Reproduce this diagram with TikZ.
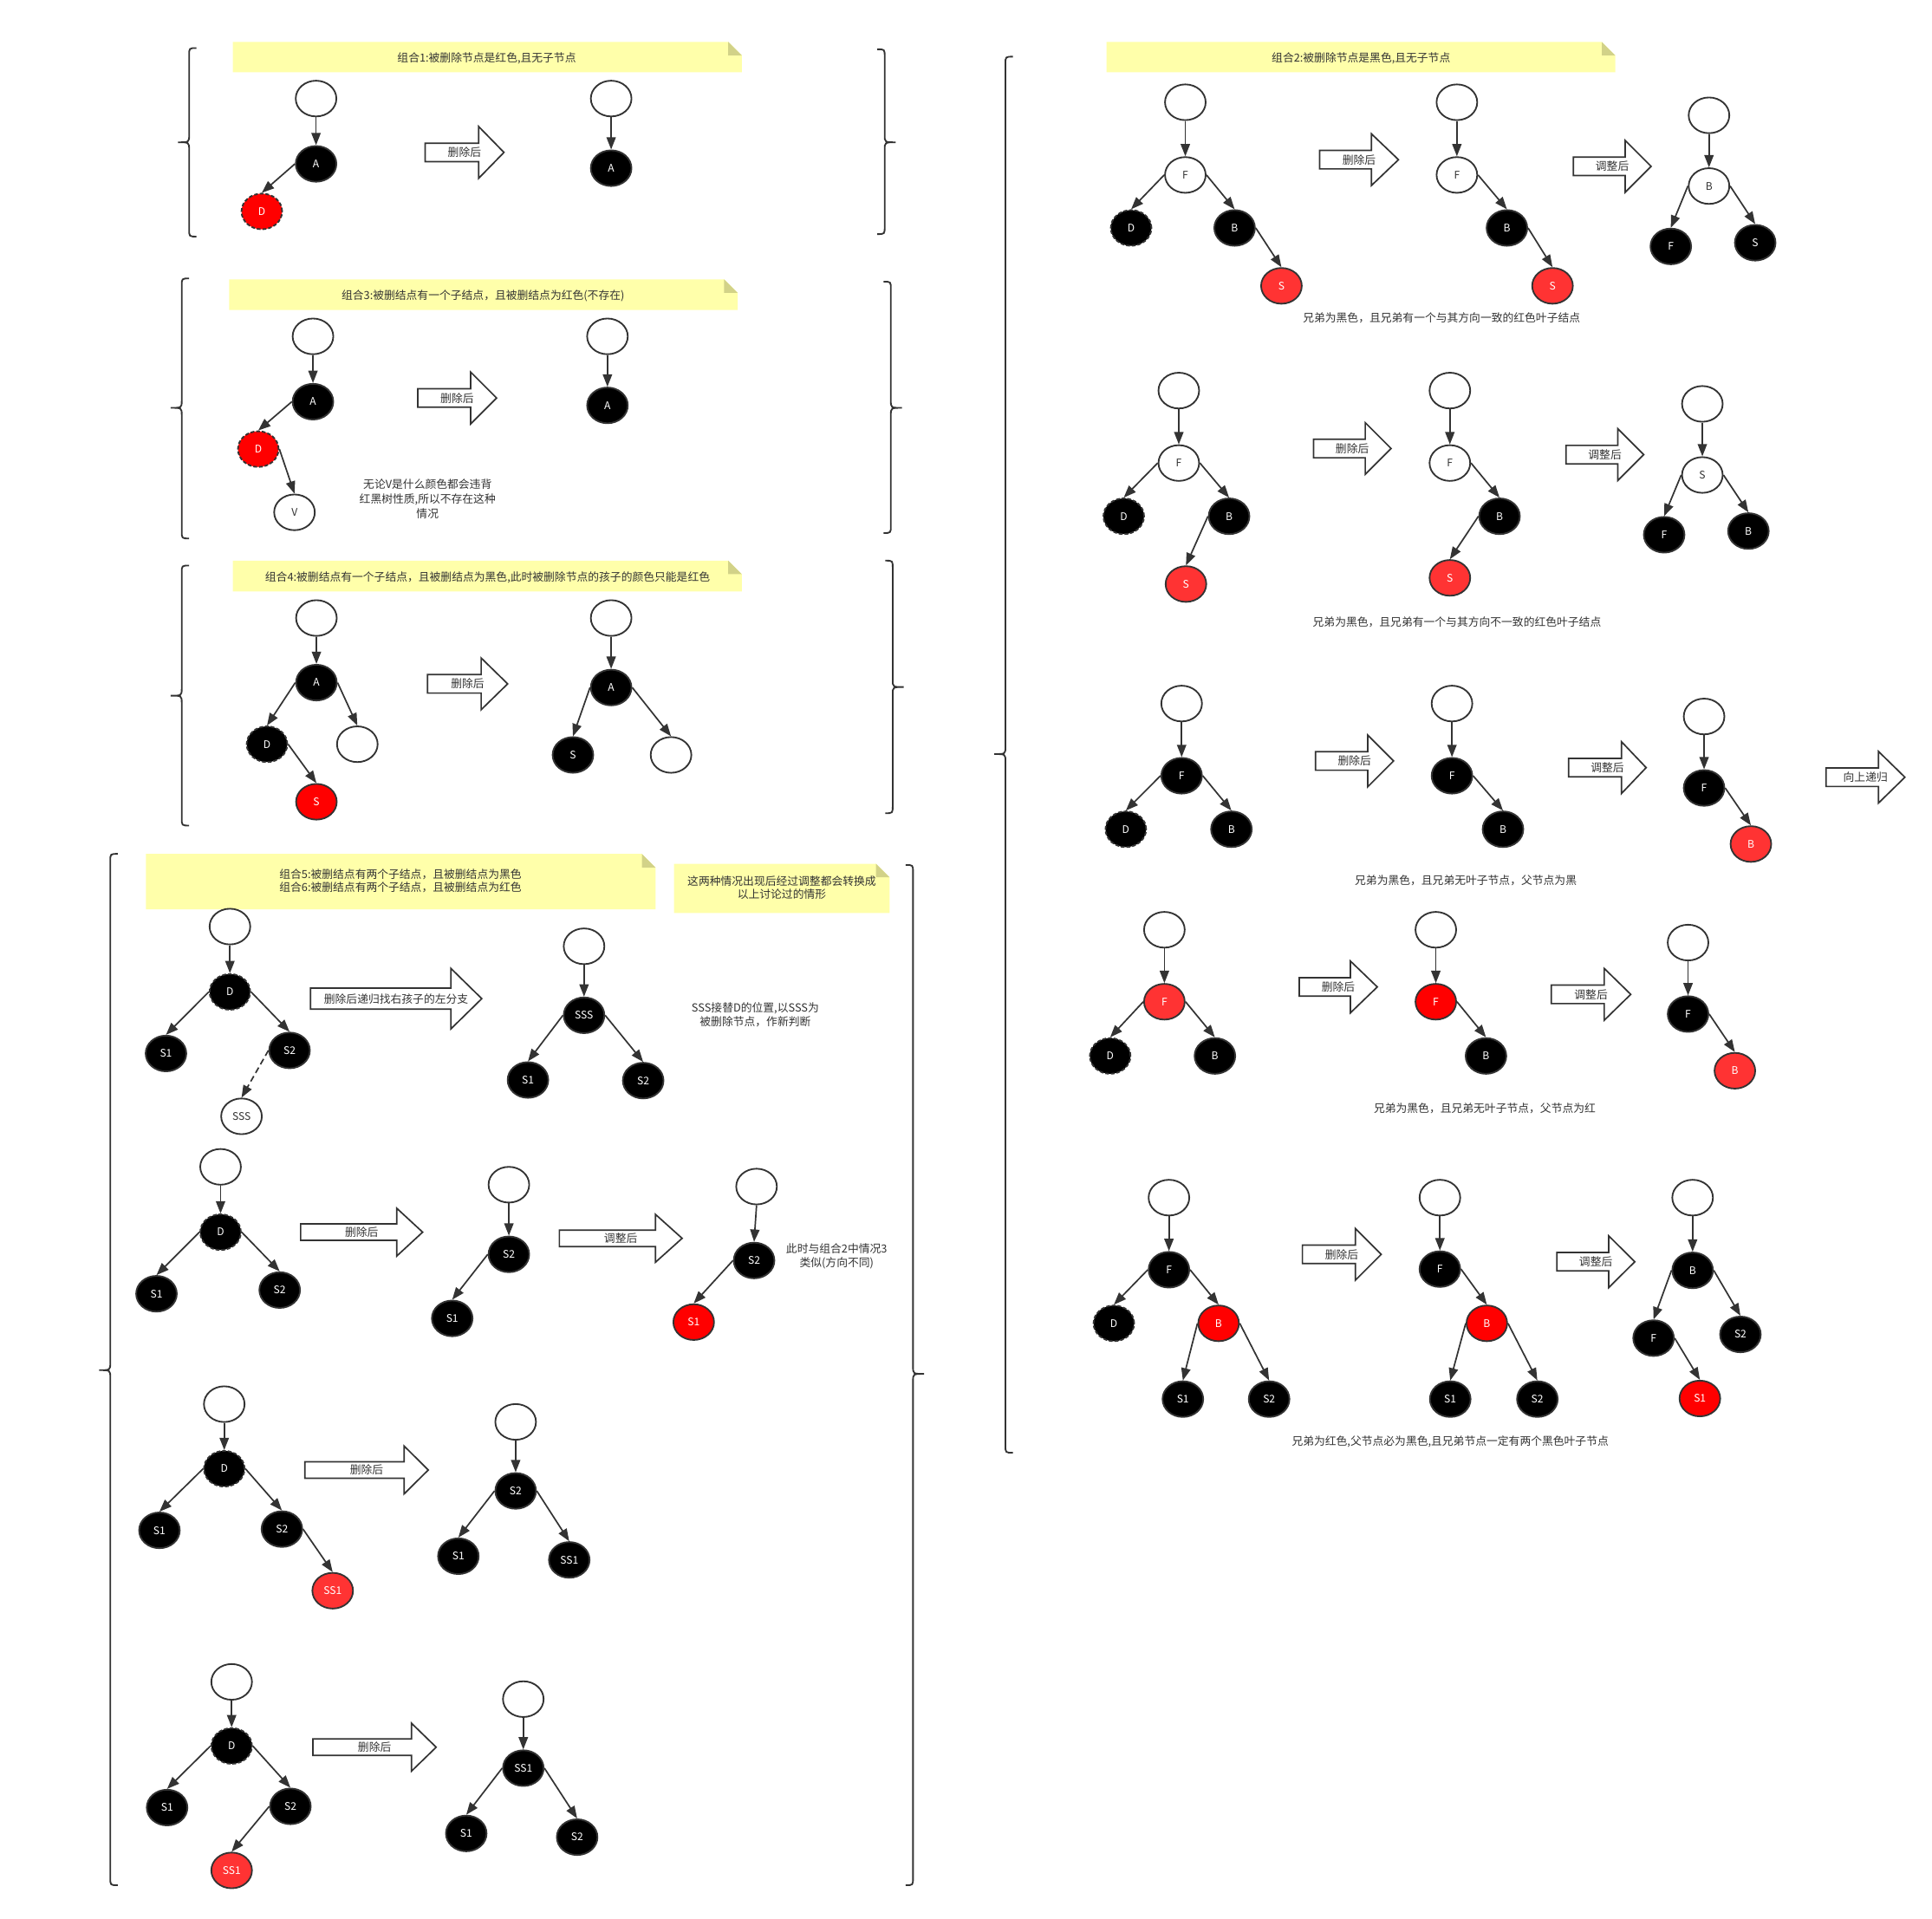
\documentclass[tikz,border=0pt]{standalone}
\usepackage{fontspec}
\newfontfamily\cjk{Noto Sans CJK SC}
\usetikzlibrary{shapes.geometric,arrows.meta}
\definecolor{cdark}{HTML}{333333}
\definecolor{redA}{HTML}{FF0000}
\definecolor{redB}{HTML}{FF3333}
\definecolor{noteY}{HTML}{FFFFAA}
\definecolor{noteF}{HTML}{D2D288}
\tikzset{
  nd/.style={ellipse, minimum width=33pt, minimum height=29pt, inner sep=0pt, line width=1.3pt, draw=cdark, font=\cjk\fontsize{8.5}{10}\selectfont},
  wn/.style={nd, fill=white, text=cdark},
  bn/.style={nd, fill=black, text=white},
  rnA/.style={nd, fill=redA, text=white},
  rnB/.style={nd, fill=redB, text=white},
  dsh/.style={dash pattern=on 3pt off 1.6pt},
  conn/.style={draw=cdark, line width=1.2pt, -{Triangle[length=10pt,width=7.5pt]}},
  fatline/.style={draw=cdark, fill=white, line width=1.2pt, line join=miter},
  arrlab/.style={font=\cjk\fontsize{9}{10}\selectfont, text=cdark, inner sep=0pt},
  captxt/.style={font=\cjk\fontsize{9}{11}\selectfont, text=cdark, inner sep=0pt, align=center},
  brc/.style={draw=cdark, line width=1.3pt},
}
\newcommand\fatarr[8]{%
  \draw[fatline] (#1,#4-#5) -- (#2,#4-#5) -- (#2,#4-#6) -- (#3,#4) -- (#2,#4+#6) -- (#2,#4+#5) -- (#1,#4+#5) -- cycle;
  \node[arrlab] (#8) at ({(#1+#3)/2},#4) {#7};}
\newcommand\notebox[4]{%
  \fill[noteY] (#1,#2) -- (#3-11,#2) -- (#3,#2+11) -- (#3,#4) -- (#1,#4) -- cycle;
  \fill[noteF] (#3-11,#2) -- (#3,#2+11) -- (#3-11,#2+11) -- cycle;}
\newcommand\bracel[4]{%
  \draw[brc] (#1+6,#2) .. controls (#1,#2) .. (#1,#2+6) -- (#1,#3-6) .. controls (#1,#3) .. (#1-9,#3) .. controls (#1,#3) .. (#1,#3+6) -- (#1,#4-6) .. controls (#1,#4) .. (#1+6,#4);}
\newcommand\bracer[4]{%
  \draw[brc] (#1-6,#2) .. controls (#1,#2) .. (#1,#2+6) -- (#1,#3-6) .. controls (#1,#3) .. (#1+9,#3) .. controls (#1,#3) .. (#1,#3+6) -- (#1,#4-6) .. controls (#1,#4) .. (#1-6,#4);}
\begin{document}
\begin{tikzpicture}[x=1pt,y=-1pt,font=\cjk]
\useasboundingbox[fill=white] (0,0) rectangle (1568,1557);

% ===== Section 1 =====
\notebox{189}{34}{602}{58.6}
\node[captxt] (t1) at (395,47) {组合1:被删除节点是红色,且无子节点};
\bracel{153.5}{39}{115.5}{192}
\bracer{718}{40}{115.5}{190}
\node[wn] (s1r) at (256.5,80) {};
\node[bn] (s1a) at (256.5,133) {A};
\node[rnA,dsh] (s1d) at (212.5,171.6) {D};
\draw[conn] (s1r.south) -- (s1a.north);
\draw[conn] (s1a.west) -- (s1d.north);
\fatarr{345}{388.5}{409}{123.7}{7.5}{21}{删除后}{s1f}
\node[wn] (s1r2) at (496,80) {};
\node[bn] (s1a2) at (496,136.5) {A};
\draw[conn] (s1r2.south) -- (s1a2.north);

% ===== Section 3 =====
\notebox{186}{226.7}{598.7}{251.6}
\node[captxt] (t3) at (392,240) {组合3:被删结点有一个子结点，且被删结点为红色(不存在)};
\bracel{147.5}{226}{331}{437}
\bracer{723}{228.6}{331}{432.6}
\node[wn] (s3r) at (254,273) {};
\node[bn] (s3a) at (254,326) {A};
\node[rnA,dsh] (s3d) at (209.6,364.5) {D};
\node[wn] (s3v) at (239,415.8) {V};
\draw[conn] (s3r.south) -- (s3a.north);
\draw[conn] (s3a.west) -- (s3d.north);
\draw[conn] (s3d.east) -- (s3v.north);
\fatarr{339}{382}{403}{323}{7.5}{21}{删除后}{s3f}
\node[captxt,font=\cjk\fontsize{9}{11.7}\selectfont] (s3t) at (347,405) {无论V是什么颜色都会违背\\红黑树性质,所以不存在这种\\情况};
\node[wn] (s3r2) at (493,273) {};
\node[bn] (s3a2) at (493,329) {A};
\draw[conn] (s3r2.south) -- (s3a2.north);

% ===== Section 4 =====
\notebox{189}{455}{602}{480}
\node[captxt] (t4) at (395.7,468.5) {组合4:被删结点有一个子结点，且被删结点为黑色,此时被删除节点的孩子的颜色只能是红色};
\bracel{147.5}{459}{564.6}{670}
\bracer{724.5}{455}{557.6}{660}
\node[wn] (s4r) at (256.8,501.6) {};
\node[bn] (s4a) at (256.8,554) {A};
\node[bn,dsh] (s4d) at (216.7,604) {D};
\node[wn] (s4e) at (290,604) {};
\node[rnA] (s4s) at (256.8,650.7) {S};
\draw[conn] (s4r.south) -- (s4a.north);
\draw[conn] (s4a.west) -- (s4d.north);
\draw[conn] (s4a.east) -- (s4e.north);
\draw[conn] (s4d.east) -- (s4s.north);
\fatarr{347}{390.5}{412}{555}{7.5}{21}{删除后}{s4f}
\node[wn] (s4r2) at (496,501.6) {};
\node[bn] (s4a2) at (496,558) {A};
\node[bn] (s4s2) at (465,612.7) {S};
\node[wn] (s4e2) at (544.6,612.7) {};
\draw[conn] (s4r2.south) -- (s4a2.north);
\draw[conn] (s4a2.west) -- (s4s2.north);
\draw[conn] (s4a2.east) -- (s4e2.north);

% ===== Section 5/6 =====
\notebox{118.5}{693}{532}{738}
\node[captxt,font=\cjk\fontsize{9}{10.5}\selectfont] (t5) at (325,715) {组合5:被删结点有两个子结点，且被删结点为黑色\\组合6:被删结点有两个子结点，且被删结点为红色};
\notebox{547}{701}{722}{741}
\node[captxt,font=\cjk\fontsize{9}{10.5}\selectfont] (t5b) at (634.5,720.5) {这两种情况出现后经过调整都会转换成\\以上讨论过的情形};
\bracel{89.5}{693}{1112}{1530}
\bracer{741}{702}{1115}{1530}
% row 1
\node[wn] (r5a) at (186.6,752) {};
\node[bn,dsh] (d5a) at (186.6,805) {D};
\node[bn] (p5a) at (134.7,855) {S1};
\node[bn] (q5a) at (235,852.5) {S2};
\node[wn] (x5a) at (196,906) {SSS};
\draw[conn] (r5a.south) -- (d5a.north);
\draw[conn] (d5a.west) -- (p5a.north);
\draw[conn] (d5a.east) -- (q5a.north);
\draw[conn,dash pattern=on 5pt off 3pt] (q5a.west) -- (x5a.north);
\fatarr{252}{366}{391}{810.5}{8.5}{24.5}{删除后递归找右孩子的左分支}{f5a}
\node[wn] (r5b) at (474,768) {};
\node[bn] (x5b) at (474,824) {SSS};
\node[bn] (p5b) at (428.5,876.5) {S1};
\node[bn] (q5b) at (522,877) {S2};
\draw[conn] (r5b.south) -- (x5b.north);
\draw[conn] (x5b.west) -- (p5b.north);
\draw[conn] (x5b.east) -- (q5b.north);
\node[captxt,font=\cjk\fontsize{9}{11}\selectfont] (t5c) at (613,823.5) {SSS接替D的位置,以SSS为\\被删除节点，作新判断};
% row 2
\node[wn] (r6) at (179,947) {};
\node[bn,dsh] (d6) at (179,1000) {D};
\node[bn] (p6) at (127,1050) {S1};
\node[bn] (q6) at (227,1047) {S2};
\draw[conn] (r6.south) -- (d6.north);
\draw[conn] (d6.west) -- (p6.north);
\draw[conn] (d6.east) -- (q6.north);
\fatarr{244}{322}{343}{1000}{6.7}{19.4}{删除后}{f6a}
\node[wn] (r6b) at (413,961.5) {};
\node[bn] (q6b) at (413,1018) {S2};
\node[bn] (p6b) at (367,1070) {S1};
\draw[conn] (r6b.south) -- (q6b.north);
\draw[conn] (q6b.west) -- (p6b.north);
\fatarr{454}{532}{553.6}{1005}{6.7}{19.4}{调整后}{f6b}
\node[wn] (r6c) at (614,963) {};
\node[bn] (q6c) at (612,1023) {S2};
\node[rnA] (p6c) at (563,1073) {S1};
\draw[conn] (r6c.south) -- (q6c.north);
\draw[conn] (q6c.west) -- (p6c.north);
\node[captxt] (t6) at (679,1019.5) {此时与组合2中情况3\\类似(方向不同)};
% row 3
\node[wn] (r7) at (182,1139.6) {};
\node[bn,dsh] (d7) at (182,1192) {D};
\node[bn] (p7) at (129.4,1242) {S1};
\node[bn] (q7) at (228.8,1241) {S2};
\node[rnB] (z7) at (270,1291) {SS1};
\draw[conn] (r7.south) -- (d7.north);
\draw[conn] (d7.west) -- (p7.north);
\draw[conn] (d7.east) -- (q7.north);
\draw[conn] (q7.east) -- (z7.north);
\fatarr{247.5}{328}{347.6}{1193}{6.7}{19.4}{删除后}{f7}
\node[wn] (r7b) at (418.5,1154) {};
\node[bn] (q7b) at (418.5,1210) {S2};
\node[bn] (p7b) at (372,1263) {S1};
\node[bn] (z7b) at (462,1266) {SS1};
\draw[conn] (r7b.south) -- (q7b.north);
\draw[conn] (q7b.west) -- (p7b.north);
\draw[conn] (q7b.east) -- (z7b.north);
% row 4
\node[wn] (r8) at (188,1365) {};
\node[bn,dsh] (d8) at (188,1417) {D};
\node[bn] (p8) at (135.6,1467) {S1};
\node[bn] (q8) at (235.7,1466) {S2};
\node[rnB] (z8) at (188,1518) {SS1};
\draw[conn] (r8.south) -- (d8.north);
\draw[conn] (d8.west) -- (p8.north);
\draw[conn] (d8.east) -- (q8.north);
\draw[conn] (q8.west) -- (z8.north);
\fatarr{254}{334}{354}{1418}{6.7}{19.4}{删除后}{f8}
\node[wn] (r8b) at (424.7,1379) {};
\node[bn] (z8b) at (424.7,1435) {SS1};
\node[bn] (p8b) at (378.4,1488) {S1};
\node[bn] (q8b) at (468.4,1491) {S2};
\draw[conn] (r8b.south) -- (z8b.north);
\draw[conn] (z8b.west) -- (p8b.north);
\draw[conn] (z8b.east) -- (q8b.north);

% ===== Right column =====
\notebox{898}{34}{1311}{58.6}
\node[captxt] (t2) at (1104.6,47) {组合2:被删除节点是黑色,且无子节点};
\bracel{816}{46}{612}{1179}
% row A
\node[wn] (ra) at (962,83) {};
\node[wn] (fa) at (962,142) {F};
\node[bn,dsh] (da) at (918,185) {D};
\node[bn] (ba) at (1002,185) {B};
\node[rnB] (sa) at (1040,232) {S};
\draw[conn] (ra.south) -- (fa.north);
\draw[conn] (fa.west) -- (da.north);
\draw[conn] (fa.east) -- (ba.north);
\draw[conn] (ba.east) -- (sa.north);
\fatarr{1071}{1113}{1135}{129.6}{7.5}{21}{删除后}{fa1}
\node[wn] (ra2) at (1182.4,83) {};
\node[wn] (fa2) at (1182.4,142) {F};
\node[bn] (ba2) at (1223,185) {B};
\node[rnB] (sa2) at (1260,232) {S};
\draw[conn] (ra2.south) -- (fa2.north);
\draw[conn] (fa2.east) -- (ba2.north);
\draw[conn] (ba2.east) -- (sa2.north);
\fatarr{1277}{1319}{1340}{135}{7.5}{21}{调整后}{fa2a}
\node[wn] (ra3) at (1387,93.6) {};
\node[wn] (ba3) at (1387,151) {B};
\node[bn] (fa3) at (1356,200) {F};
\node[bn] (sa3) at (1424.5,197) {S};
\draw[conn] (ra3.south) -- (ba3.north);
\draw[conn] (ba3.west) -- (fa3.north);
\draw[conn] (ba3.east) -- (sa3.north);
\node[captxt] (ca) at (1170,258) {兄弟为黑色，且兄弟有一个与其方向一致的红色叶子结点};
% row B
\node[wn] (rb) at (956.7,317) {};
\node[wn] (fb) at (956.7,375.8) {F};
\node[bn,dsh] (db) at (912,419) {D};
\node[bn] (bb) at (997.5,419) {B};
\node[rnB] (sb) at (962.5,474) {S};
\draw[conn] (rb.south) -- (fb.north);
\draw[conn] (fb.west) -- (db.north);
\draw[conn] (fb.east) -- (bb.north);
\draw[conn] (bb.west) -- (sb.north);
\fatarr{1066}{1108}{1129}{364}{7.5}{21}{删除后}{fb1}
\node[wn] (rb2) at (1176.7,317) {};
\node[wn] (fb2) at (1176.7,375.8) {F};
\node[bn] (bb2) at (1217,419) {B};
\node[rnB] (sb2) at (1176.7,469) {S};
\draw[conn] (rb2.south) -- (fb2.north);
\draw[conn] (fb2.east) -- (bb2.north);
\draw[conn] (bb2.west) -- (sb2.north);
\fatarr{1271}{1313}{1334}{369}{7.5}{21}{调整后}{fb2a}
\node[wn] (rb3) at (1381.6,327.8) {};
\node[wn] (sb3) at (1381.6,385.5) {S};
\node[bn] (fb3) at (1350.6,434) {F};
\node[bn] (bb3) at (1419,431) {B};
\draw[conn] (rb3.south) -- (sb3.north);
\draw[conn] (sb3.west) -- (fb3.north);
\draw[conn] (sb3.east) -- (bb3.north);
\node[captxt] (cb) at (1182.5,505) {兄弟为黑色，且兄弟有一个与其方向不一致的红色叶子结点};
% row C
\node[wn] (rc) at (959,571) {};
\node[bn] (fc) at (959,629.6) {F};
\node[bn,dsh] (dc) at (913.7,673) {D};
\node[bn] (bc) at (999.4,673) {B};
\draw[conn] (rc.south) -- (fc.north);
\draw[conn] (fc.west) -- (dc.north);
\draw[conn] (fc.east) -- (bc.north);
\fatarr{1067.6}{1110}{1131}{617.6}{7.5}{21}{删除后}{fc1}
\node[wn] (rc2) at (1178.4,571) {};
\node[bn] (fc2) at (1178.4,629.6) {F};
\node[bn] (bc2) at (1219.8,673) {B};
\draw[conn] (rc2.south) -- (fc2.north);
\draw[conn] (fc2.east) -- (bc2.north);
\fatarr{1273}{1316}{1336}{623}{7.5}{21}{调整后}{fc2a}
\node[wn] (rc3) at (1383,581.5) {};
\node[bn] (fc3) at (1383,639.5) {F};
\node[rnB] (bc3) at (1421,685) {B};
\draw[conn] (rc3.south) -- (fc3.north);
\draw[conn] (fc3.east) -- (bc3.north);
\fatarr{1482}{1524.5}{1546}{630.8}{7.5}{21}{向上递归}{fc3a}
\node[captxt] (cc) at (1189.6,714.7) {兄弟为黑色，且兄弟无叶子节点，父节点为黑};
% row D
\node[wn] (rd) at (945,754.6) {};
\node[rnB] (fd) at (945,813) {F};
\node[bn,dsh] (dd) at (901,857) {D};
\node[bn] (bd) at (986,857) {B};
\draw[conn] (rd.south) -- (fd.north);
\draw[conn] (fd.west) -- (dd.north);
\draw[conn] (fd.east) -- (bd.north);
\fatarr{1054.4}{1096}{1117.8}{801}{7.5}{21}{删除后}{fd1}
\node[wn] (rd2) at (1165.3,754.6) {};
\node[rnA] (fd2) at (1165.3,813) {F};
\node[bn] (bd2) at (1206,857) {B};
\draw[conn] (rd2.south) -- (fd2.north);
\draw[conn] (fd2.east) -- (bd2.north);
\fatarr{1259}{1302}{1323.5}{807}{7.5}{21}{调整后}{fd2a}
\node[wn] (rd3) at (1370,765) {};
\node[bn] (fd3) at (1370,823) {F};
\node[rnB] (bd3) at (1408,869) {B};
\draw[conn] (rd3.south) -- (fd3.north);
\draw[conn] (fd3.east) -- (bd3.north);
\node[captxt] (cd) at (1205,899.7) {兄弟为黑色，且兄弟无叶子节点，父节点为红};
% row E
\node[wn] (re) at (948.7,972) {};
\node[bn] (fe) at (948.7,1030.5) {F};
\node[bn,dsh] (de) at (904,1074) {D};
\node[rnA] (be) at (989,1074) {B};
\node[bn] (pe) at (960,1135.5) {S1};
\node[bn] (qe) at (1030,1135.5) {S2};
\draw[conn] (re.south) -- (fe.north);
\draw[conn] (fe.west) -- (de.north);
\draw[conn] (fe.east) -- (be.north);
\draw[conn] (be.west) -- (pe.north);
\draw[conn] (be.east) -- (qe.north);
\fatarr{1057}{1100}{1121}{1018}{7.5}{21}{删除后}{fe1}
\node[wn] (re2) at (1168.6,972) {};
\node[bn] (fe2) at (1168.6,1030) {F};
\node[rnA] (be2) at (1206.7,1074) {B};
\node[bn] (pe2) at (1177,1135.5) {S1};
\node[bn] (qe2) at (1247.7,1135.5) {S2};
\draw[conn] (re2.south) -- (fe2.north);
\draw[conn] (fe2.east) -- (be2.north);
\draw[conn] (be2.west) -- (pe2.north);
\draw[conn] (be2.east) -- (qe2.north);
\fatarr{1263.5}{1305.6}{1326.8}{1024}{7.5}{21}{调整后}{fe2a}
\node[wn] (re3) at (1373.7,972) {};
\node[bn] (be3) at (1373.7,1031) {B};
\node[bn] (fe3) at (1342,1086) {F};
\node[bn] (qe3) at (1412.5,1083) {S2};
\node[rnA] (pe3) at (1379.6,1135) {S1};
\draw[conn] (re3.south) -- (be3.north);
\draw[conn] (be3.west) -- (fe3.north);
\draw[conn] (be3.east) -- (qe3.north);
\draw[conn] (fe3.east) -- (pe3.north);
\node[captxt] (ce) at (1177,1170) {兄弟为红色,父节点必为黑色,且兄弟节点一定有两个黑色叶子节点};
\end{tikzpicture}
\end{document}
